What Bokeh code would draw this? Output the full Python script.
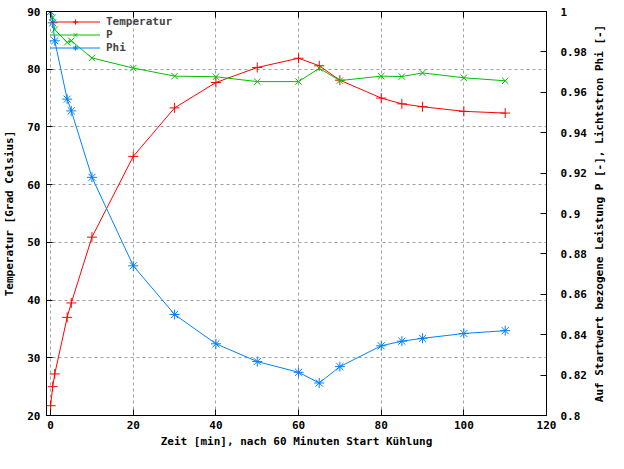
from bokeh.plotting import figure
from bokeh.layouts import row
from bokeh.models import (Range1d, LinearAxis, FixedTicker, Legend, LegendItem,
                          CustomLabelingPolicy, Title)
from bokeh.embed import file_html
from bokeh.resources import INLINE

# ---- data ----
zeit_min = [0, 0.5, 1, 4, 5, 10, 20, 30, 40, 50, 60, 65, 70, 80, 85, 90, 100, 110]
temperatur = [21.7, 25.0, 27.2, 37.0, 39.5, 50.9, 64.9, 73.3, 77.7, 80.3, 81.9,
              80.6, 78.1, 75.0, 74.0, 73.5, 72.7, 72.4]
leistung_p = [1.0, 0.997, 0.991, 0.9847, 0.9855, 0.977, 0.972, 0.968, 0.9677,
              0.9653, 0.9653, 0.9719, 0.9658, 0.968, 0.9678, 0.9696, 0.9672, 0.9657]
phi = [1.0, 0.9944, 0.9855, 0.9566, 0.9508, 0.9179, 0.8741, 0.850, 0.8355,
       0.8267, 0.8214, 0.8161, 0.8242, 0.8345, 0.8368, 0.8382, 0.8406, 0.842]

x_ticks = [0, 20, 40, 60, 80, 100, 120]
y_ticks = [20, 30, 40, 50, 60, 70, 80, 90]
y2_ticks = [0.8, 0.82, 0.84, 0.86, 0.88, 0.9, 0.92, 0.94, 0.96, 0.98, 1.0]
y2_labels = ["0.8", "0.82", "0.84", "0.86", "0.88", "0.9", "0.92", "0.94",
             "0.96", "0.98", "1"]
y2_title = "Auf Startwert bezogene Leistung P [-], Lichtstron Phi [-]"

FONT = "DejaVu Sans Mono"
FS = "11px"
RED = "#ff0000"
GREEN = "#00c000"
BLUE = "#0080ff"
BOTTOM = 38

p = figure(width=590, height=453, output_backend="svg", toolbar_location=None,
           x_range=Range1d(-1, 120), y_range=Range1d(20, 90),
           min_border_left=44, min_border_right=44, min_border_top=4,
           min_border_bottom=BOTTOM,
           x_axis_label="Zeit [min], nach 60 Minuten Start Kühlung",
           y_axis_label="Temperatur [Grad Celsius]")
p.extra_y_ranges = {"right": Range1d(0.8, 1.0)}

p.outline_line_color = "black"
p.outline_line_width = 1
p.background_fill_color = "white"
p.border_fill_color = "white"

def style_axis(ax):
    ax.major_tick_in = 6
    ax.major_tick_out = 0
    ax.minor_tick_in = 0
    ax.minor_tick_out = 0
    ax.axis_line_color = "black"
    ax.major_tick_line_color = "black"
    ax.major_label_text_font = FONT
    ax.major_label_text_font_style = "bold"
    ax.major_label_text_font_size = FS
    ax.major_label_text_color = "black"
    ax.axis_label_text_font = FONT
    ax.axis_label_text_font_style = "bold"
    ax.axis_label_text_font_size = FS
    ax.axis_label_text_color = "black"

p.xaxis.ticker = FixedTicker(ticks=x_ticks)
p.yaxis.ticker = FixedTicker(ticks=y_ticks)
style_axis(p.xaxis[0])
style_axis(p.yaxis[0])
p.xaxis.major_label_standoff = 5
p.xaxis.axis_label_standoff = 3
p.yaxis.major_label_standoff = 6
p.yaxis.axis_label_standoff = 8

ax_r = LinearAxis(y_range_name="right", ticker=FixedTicker(ticks=y2_ticks))
style_axis(ax_r)
ax_r.major_label_overrides = {t: l for t, l in zip(y2_ticks, y2_labels)}
ax_r.major_label_standoff = 14
p.add_layout(ax_r, "right")

# mirrored x ticks on the top border, without labels
ax_top = LinearAxis(ticker=FixedTicker(ticks=x_ticks))
style_axis(ax_top)
ax_top.major_label_standoff = 0
ax_top.major_label_policy = CustomLabelingPolicy(
    code="const arr = Array.from(indices); for (const i of arr) { indices.unset(i) } return indices")
p.add_layout(ax_top, "above")

for g in (p.xgrid[0], p.ygrid[0]):
    g.grid_line_color = "#a0a0a0"
    g.grid_line_dash = "3 3"
    g.grid_line_width = 1
p.xgrid.ticker = FixedTicker(ticks=x_ticks)
p.ygrid.ticker = FixedTicker(ticks=y_ticks)

l1 = p.line(zeit_min, temperatur, color=RED, line_width=1)
s1 = p.scatter(zeit_min, temperatur, marker="cross", size=10, line_color=RED, line_width=1)
l2 = p.line(zeit_min, leistung_p, color=GREEN, line_width=1, y_range_name="right")
s2 = p.scatter(zeit_min, leistung_p, marker="x", size=9, line_color=GREEN, line_width=1,
               y_range_name="right")
l3 = p.line(zeit_min, phi, color=BLUE, line_width=1, y_range_name="right")
s3 = p.scatter(zeit_min, phi, marker="asterisk", size=10, line_color=BLUE, line_width=1,
               y_range_name="right")

legend = Legend(items=[LegendItem(label="Temperatur", renderers=[l1, s1]),
                       LegendItem(label="P", renderers=[l2, s2]),
                       LegendItem(label="Phi", renderers=[l3, s3])],
                location="top_left")
legend.background_fill_alpha = 0
legend.border_line_alpha = 0
legend.label_text_font = FONT
legend.label_text_font_style = "bold"
legend.label_text_font_size = FS
legend.glyph_width = 50
legend.glyph_height = 13
legend.label_height = 13
legend.spacing = 0
legend.padding = 2
legend.margin = 2
legend.label_standoff = 6
p.add_layout(legend)

# narrow strip on the right holding the right-axis title (reads bottom to top)
side = figure(width=18, height=453, output_backend="svg", toolbar_location=None,
              x_range=Range1d(0, 1), y_range=Range1d(0, 1),
              x_axis_location=None, y_axis_location=None,
              min_border_left=0, min_border_right=0, min_border_top=4,
              min_border_bottom=BOTTOM)
side.outline_line_color = None
side.grid.visible = False
side.border_fill_color = "white"
side.background_fill_color = "white"
side.add_layout(Title(text=y2_title, align="center", standoff=0, offset=0,
                      text_font=FONT, text_font_style="bold", text_font_size=FS,
                      text_color="black"), "left")

layout = row(p, side, spacing=0)
open("out.html", "w").write(file_html(layout, INLINE))
